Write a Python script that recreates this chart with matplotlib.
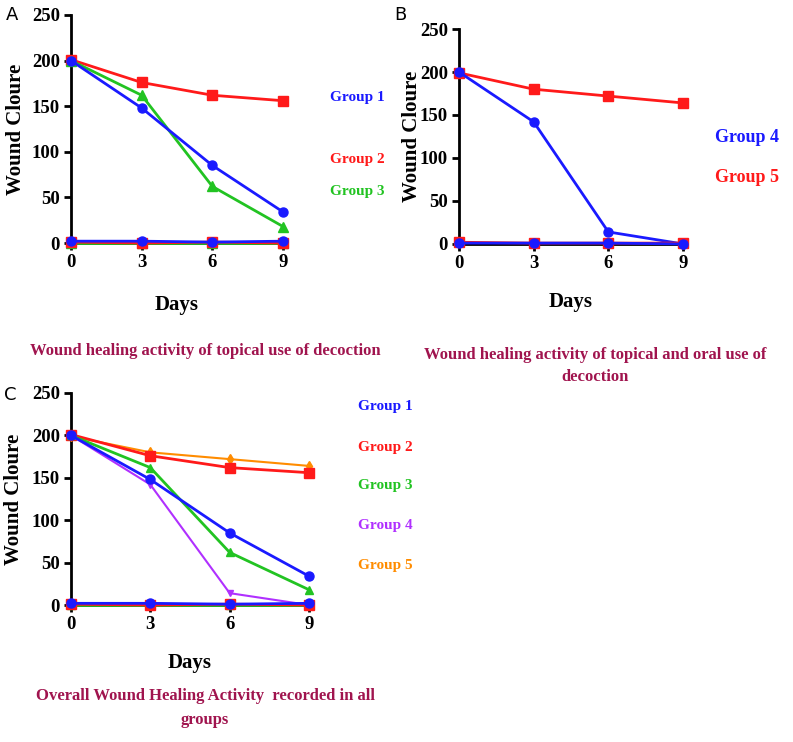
import matplotlib
matplotlib.use("Agg")
import matplotlib.pyplot as plt

days = [0, 3, 6, 9]
tick_labels = ["0", "3", "6", "9"]
y_ticks = [0, 50, 100, 150, 200, 250]

# Panel A
g1 = [200, 148, 85, 34]
g2 = [201, 176, 162, 156]
g3 = [200, 162, 62, 18]
g1_base = [2, 2, 1, 2]
g2_base = [1, 0, 1, 0]
g3_base = [0, 0, 0, 0]
# Panel B
g4 = [200, 142, 14, 0]
g5 = [199, 180, 172, 164]
g4_base = [1, 1, 1, 0]
g5_base = [2, 1, 1, 1]

BLUE = "#1a1aff"
RED = "#ff1a1a"
GREEN = "#22c322"
PURPLE = "#b030ff"
ORANGE = "#ff8c00"
CAP = "#a0144e"
SERIF = "Liberation Serif"

fig = plt.figure(figsize=(7.93, 7.42), dpi=100)


def style(ax, ylab_x, xpad=14):
    ax.set_xlim(0, 9)
    ax.set_ylim(0, 250)
    ax.set_xticks(days)
    ax.set_xticklabels(tick_labels)
    ax.set_yticks(y_ticks)
    for s in ["top", "right"]:
        ax.spines[s].set_visible(False)
    for s in ["left", "bottom"]:
        ax.spines[s].set_linewidth(2)
    ax.tick_params(width=2, length=5, direction="out", pad=3)
    for lab in ax.get_xticklabels() + ax.get_yticklabels():
        lab.set_fontfamily(SERIF)
        lab.set_fontweight("bold")
        lab.set_fontsize(13.5)
    ax.set_xlabel("Days", fontfamily=SERIF, fontweight="bold", fontsize=15, labelpad=xpad)
    ax.set_ylabel("Wound Cloure", fontfamily=SERIF, fontweight="bold", fontsize=15)
    ax.yaxis.set_label_coords(ylab_x, 0.5)


def line(ax, y, color, marker, ms=6.5, lw=2):
    ax.plot(days, y, color=color, marker=marker, ms=ms, lw=lw, clip_on=False, zorder=3)


# ---- Panel A
axA = fig.add_axes([0.0895, 0.6725, 0.2675, 0.3073])
line(axA, g2, RED, "s")
line(axA, g3, GREEN, "^")
line(axA, g1, BLUE, "o")
line(axA, g3_base, GREEN, "^")
line(axA, g2_base, RED, "s")
line(axA, g1_base, BLUE, "o")
style(axA, -0.212, xpad=17)
for txt, col, yy in [("Group 1", BLUE, 98), ("Group 2", RED, 160), ("Group 3", GREEN, 192)]:
    fig.text(330 / 793, 1 - yy / 742, txt, color=col, fontfamily=SERIF, fontweight="bold",
             fontsize=11, va="center", ha="left")
fig.text(205 / 793, 1 - 351 / 742, "Wound healing activity of topical use of decoction",
         color=CAP, fontfamily=SERIF, fontweight="bold", fontsize=12, ha="center", va="center")
fig.text(12 / 793, 1 - 15 / 742, "A", fontsize=13, ha="center", va="center")

# ---- Panel B
axB = fig.add_axes([0.5788, 0.6712, 0.2825, 0.2897])
line(axB, g5, RED, "s")
line(axB, g4, BLUE, "o")
line(axB, g5_base, RED, "s")
line(axB, g4_base, BLUE, "o")
style(axB, -0.165)
for txt, col, yy in [("Group 4", BLUE, 137), ("Group 5", RED, 178)]:
    fig.text(715 / 793, 1 - yy / 742, txt, color=col, fontfamily=SERIF, fontweight="bold",
             fontsize=13, va="center", ha="left")
fig.text(595 / 793, 1 - 366 / 742, "Wound healing activity of topical and oral use of\ndecoction",
         color=CAP, fontfamily=SERIF, fontweight="bold", fontsize=12, ha="center", va="center",
         linespacing=1.5)
fig.text(400 / 793, 1 - 15 / 742, "B", fontsize=13, ha="center", va="center")

# ---- Panel C
axC = fig.add_axes([0.0895, 0.1846, 0.3002, 0.2858])
line(axC, g5, ORANGE, "d", ms=5, lw=1.5)
line(axC, g2, RED, "s")
line(axC, g3, GREEN, "^", ms=6)
line(axC, g4, PURPLE, "v", ms=5, lw=1.5)
line(axC, g1, BLUE, "o")
line(axC, g3_base, GREEN, "^", ms=6)
line(axC, g2_base, RED, "s")
line(axC, g1_base, BLUE, "o")
style(axC, -0.197)
for txt, col, yy in [("Group 1", BLUE, 407), ("Group 2", RED, 447), ("Group 3", GREEN, 486),
                     ("Group 4", PURPLE, 526), ("Group 5", ORANGE, 566)]:
    fig.text(358 / 793, 1 - yy / 742, txt, color=col, fontfamily=SERIF, fontweight="bold",
             fontsize=11, va="center", ha="left")
fig.text(205 / 793, 1 - 708 / 742, "Overall Wound Healing Activity  recorded in all\ngroups",
         color=CAP, fontfamily=SERIF, fontweight="bold", fontsize=12, ha="center", va="center",
         linespacing=1.6)
fig.text(10 / 793, 1 - 395 / 742, "C", fontsize=13, ha="center", va="center")

fig.savefig("out.png", dpi=100)
